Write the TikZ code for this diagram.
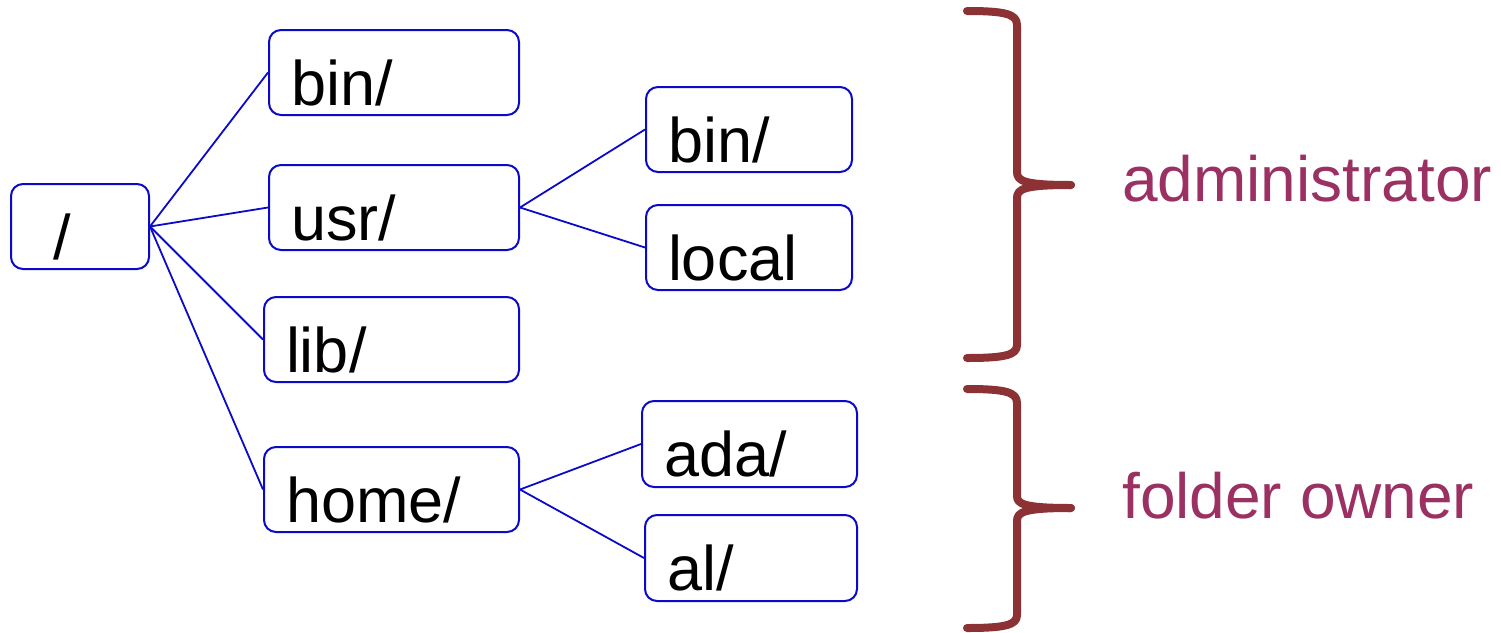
\documentclass[tikz,border=0pt]{standalone}
\usepackage{fontspec}
\setmainfont{Liberation Sans}
\usepackage{xcolor}
\usepackage{tikz}
\usetikzlibrary{positioning,calc}

\definecolor{dirblue}{RGB}{10,10,200}
\definecolor{bracered}{RGB}{140,50,52}
\definecolor{rolepurple}{RGB}{155,48,98}

\begin{document}
\begin{tikzpicture}[x=1pt,y=-1pt,
    dir/.style={draw=dirblue, line width=2pt, rounded corners=12pt, anchor=north west,
        inner xsep=22pt, inner ysep=0pt, text height=75pt, text depth=10pt, align=left,
        font=\fontsize{63}{70}\selectfont},
    link/.style={draw=dirblue, line width=1.8pt},
    brace/.style={draw=bracered, line width=8pt, line cap=round, line join=round},
    role/.style={text=rolepurple, anchor=base west, inner sep=0pt,
        font=\fontsize{64}{70}\selectfont}]
    \useasboundingbox (0,0) rectangle (1501,632);

    % Directories
    \node[dir, inner xsep=42pt, text width=54pt] (root) at (10,183) {/};
    \node[dir, text width=206pt] (bin) at (268,29) {bin/};
    \node[dir, text width=206pt] (usr) at (268,164) {usr/};
    \node[dir, text width=211pt] (lib) at (263,296) {lib/};
    \node[dir, text width=211pt] (home) at (263,446) {home/};
    \node[dir, text width=162pt] (usrbin) at (645,86) {bin/};
    \node[dir, text width=162pt] (local) at (645,204) {local};
    \node[dir, text width=171pt, text depth=11pt] (ada) at (641,400) {ada/};
    \node[dir, text width=168pt, text depth=11pt] (al) at (644,514) {al/};

    % Tree edges
    \draw[link] (root.east) -- (bin.west);
    \draw[link] (root.east) -- (usr.west);
    \draw[link] (root.east) -- (lib.west);
    \draw[link] (root.east) -- (home.west);
    \draw[link] (usr.east) -- (usrbin.west);
    \draw[link] (usr.east) -- (local.west);
    \draw[link] (home.east) -- (ada.west);
    \draw[link] (home.east) -- (al.west);

    % Braces
    \draw[brace] (967,11) .. controls (1005,11) and (1017,14) .. (1017,25)
        -- (1017,172) .. controls (1017,181) and (1024,185) .. (1071,185);
    \draw[brace] (1071,185) .. controls (1024,185) and (1017,189) .. (1017,198)
        -- (1017,345) .. controls (1017,355) and (1005,358) .. (967,358);
    \draw[brace] (967,389) .. controls (1005,389) and (1017,392) .. (1017,403)
        -- (1017,496) .. controls (1017,504) and (1024,508) .. (1071,508);
    \draw[brace] (1071,508) .. controls (1024,508) and (1017,512) .. (1017,521)
        -- (1017,615) .. controls (1017,625) and (1005,628) .. (967,628);

    % Who may write
    \node[role] (admin) at (1122,201) {administrator};
    \node[role] (owner) at (1122,518) {folder owner};
\end{tikzpicture}
\end{document}
